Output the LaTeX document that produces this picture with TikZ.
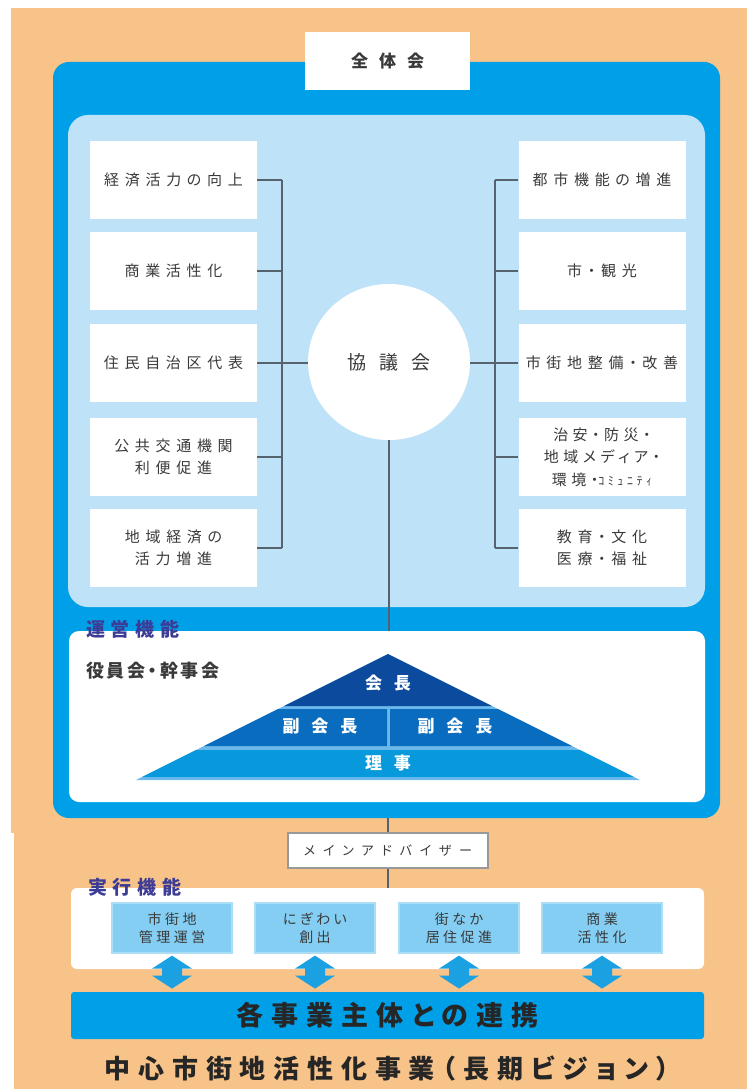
\documentclass[tikz,border=0pt]{standalone}
\usepackage{fontspec}
\newfontfamily\jp[RawFeature=+palt]{Noto Sans CJK JP}
\usetikzlibrary{shapes.geometric,calc}
\definecolor{bgorange}{HTML}{F8C389}
\definecolor{bigblue}{HTML}{00A0E9}
\definecolor{paleblue}{HTML}{BEE3F8}
\definecolor{navy}{HTML}{0B4A9C}
\definecolor{midblue}{HTML}{0A6CBF}
\definecolor{lowblue}{HTML}{0899DD}
\definecolor{sepblue}{HTML}{6CB8EA}
\definecolor{execfill}{HTML}{84CEF3}
\definecolor{execedge}{HTML}{ABDDF7}
\definecolor{labelpurple}{HTML}{3C3C96}
\definecolor{txt}{HTML}{3A3A3A}
\definecolor{linegray}{HTML}{56626E}
\definecolor{arrowblue}{HTML}{1BA1E2}
\begin{document}
\begin{tikzpicture}[x=1pt,y=-1pt,
  conn/.style={draw=linegray,line width=1.8pt},
  lbox/.style={fill=white,minimum width=167pt,minimum height=78pt,inner sep=0pt,align=center,text=txt,
    font=\jp\fontsize{15}{22}\selectfont\addfontfeature{LetterSpace=38}},
  ebox/.style={fill=execfill,draw=execedge,line width=1.2pt,minimum width=120pt,minimum height=50pt,inner sep=0pt,align=center,text=txt,
    font=\jp\fontsize{14}{18}\selectfont\addfontfeature{LetterSpace=25}},
  pyrlabel/.style={text=white,inner sep=0pt,font=\jp\bfseries\fontsize{17}{20}\selectfont},
  seclabel/.style={text=labelpurple,inner sep=0pt,anchor=west,font=\jp\bfseries\fontsize{19}{22}\selectfont\addfontfeature{LetterSpace=30}}
]
\useasboundingbox (0,0) rectangle (747,1089);
% background
\fill[white] (0,0) rectangle (747,1089);
\fill[bgorange] (11,8) rectangle (747,1089);
\fill[white] (0,833) rectangle (14,1089);

% big blue frame
\node[fill=bigblue,rounded corners=16pt,minimum width=667pt,minimum height=756pt,inner sep=0pt] (outer) at (386.5,440) {};
\node[fill=paleblue,rounded corners=20pt,minimum width=637pt,minimum height=492pt,inner sep=0pt] (council) at (386.5,361) {};
\node[fill=white,rounded corners=10pt,minimum width=636pt,minimum height=171pt,inner sep=0pt] (mgmt) at (387,716.5) {};

% top box
\node[fill=white,minimum width=165pt,minimum height=58pt,inner sep=0pt,text=txt,
  font=\jp\bfseries\fontsize{17}{20}\selectfont] (all) at (387.5,61) {全\hspace{11pt}体\hspace{11pt}会};

% left boxes
\node[lbox] (L1) at (173.5,180) {経済活力の向上};
\node[lbox] (L2) at (173.5,271) {商業活性化};
\node[lbox] (L3) at (173.5,363) {住民自治区代表};
\node[lbox] (L4) at (173.5,457) {公共交通機関\\利便促進};
\node[lbox] (L5) at (173.5,548) {地域経済の\\活力増進};
% right boxes
\node[lbox] (R1) at (602,180) {都市機能の増進};
\node[lbox] (R2) at (602,271) {市・観光};
\node[lbox] (R3) at (602,363) {市街地整備・改善};
\node[lbox,font=\jp\fontsize{15}{22.5}\selectfont\addfontfeature{LetterSpace=30}] (R4) at (602,457)
  {治安・防災・\\地域メディア・\\環境・{\fontsize{12}{22.5}\selectfont ｺﾐｭﾆﾃｨ}};
\node[lbox] (R5) at (602,548) {教育・文化\\医療・福祉};

% council circle
\node[ellipse,fill=white,minimum width=162pt,minimum height=156pt,inner sep=0pt,text=txt,
  font=\jp\fontsize{19}{22}\selectfont] (kyo) at (389,362) {協\hspace{13pt}議\hspace{13pt}会};

% brackets
\coordinate (lbus) at (282,0);
\coordinate (rbus) at (495,0);
\foreach \n in {1,2,3,4,5}{
  \draw[conn] (L\n.east) -- (L\n.east -| lbus);
  \draw[conn] (R\n.west) -- (R\n.west -| rbus);
}
\draw[conn] (L1.east -| lbus) -- (L5.east -| lbus);
\draw[conn] (R1.west -| rbus) -- (R5.west -| rbus);
\draw[conn] (L3.east -| lbus) -- (L3.east -| kyo.west);
\draw[conn] (R3.west -| rbus) -- (R3.west -| kyo.east);
\draw[conn] (kyo.south) -- (kyo.south |- mgmt.north);

% management labels
\node[seclabel] (unei) at (86,629) {運営機能};
\node[anchor=west,inner sep=0pt,text=txt,font=\jp\bfseries\fontsize{18}{20}\selectfont\addfontfeature{LetterSpace=15}] (yakuin) at (86,671) {役員会・幹事会};

% pyramid
\fill[sepblue] (388,654) -- (136,780) -- (640,780) -- cycle;
\fill[navy] (388,654) -- (284,706) -- (492,706) -- cycle;
\fill[midblue] (278,709) -- (387,709) -- (387,746) -- (204,746) -- cycle;
\fill[midblue] (390,709) -- (498,709) -- (572,746) -- (390,746) -- cycle;
\fill[lowblue] (196,750) -- (580,750) -- (634,777) -- (142,777) -- cycle;
\node[pyrlabel] (chair) at (388,683) {会\hspace{12pt}長};
\node[pyrlabel] (vc1) at (320,726) {副\hspace{12pt}会\hspace{12pt}長};
\node[pyrlabel] (vc2) at (455,726) {副\hspace{12pt}会\hspace{12pt}長};
\node[pyrlabel] (dir) at (388,763) {理\hspace{12pt}事};

% advisor
\node[fill=white,draw=gray!80,line width=1.2pt,minimum width=200pt,minimum height=35pt,inner sep=0pt,text=txt,
  font=\jp\fontsize{13}{15}\selectfont\addfontfeature{LetterSpace=60}] (adv) at (388,850.5) {メインアドバイザー};

% execution area
\node[fill=white,rounded corners=6pt,minimum width=633pt,minimum height=81pt,inner sep=0pt] (exec) at (387.5,928.5) {};
\draw[conn] (adv.north |- outer.south) -- (adv.north);
\draw[conn] (adv.south) -- (adv.south |- exec.north);
\node[seclabel] (jikko) at (88,887) {実行機能};

\node[ebox] (E1) at (172,928) {市街地\\管理運営};
\node[ebox] (E2) at (315,928) {にぎわい\\創出};
\node[ebox] (E3) at (459,928) {街なか\\居住促進};
\node[ebox] (E4) at (602,928) {商業\\活性化};

% bar
\node[fill=bigblue,rounded corners=3pt,minimum width=633pt,minimum height=47pt,inner sep=0pt,text=black!85,
  font=\jp\bfseries\fontsize{27}{30}\selectfont\addfontfeature{LetterSpace=30}] (bar) at (387.5,1015.5) {各事業主体との連携};

% double arrows
\foreach \n in {1,2,3,4}{
  \fill[arrowblue] ($(E\n.south)+(0,2)$) -- ++(20,13) -- ++(-10,0) -- ++(0,7) -- ++(10,0)
    -- ++(-20,13) -- ++(-20,-13) -- ++(10,0) -- ++(0,-7) -- ++(-10,0) -- cycle;
}

% title
\node[inner sep=0pt,text=black!85,font=\jp\bfseries\fontsize{26}{30}\selectfont\addfontfeature{LetterSpace=30}] (title) at (387,1068) {中心市街地活性化事業（長期ビジョン）};
\end{tikzpicture}
\end{document}
